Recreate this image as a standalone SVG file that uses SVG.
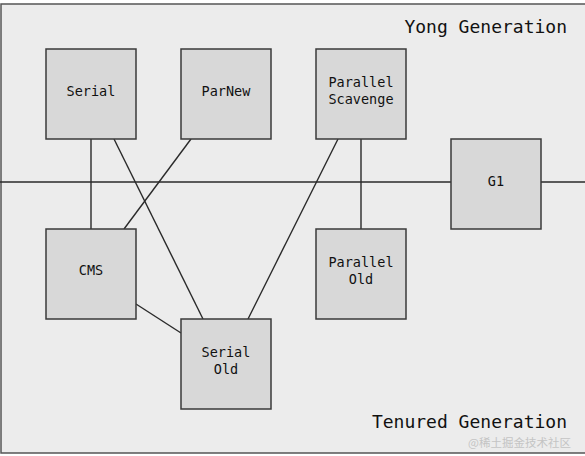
<svg xmlns="http://www.w3.org/2000/svg" width="585" height="456" viewBox="0 0 585 456">
<style>
.bg{fill:#ececec;stroke:#555;stroke-width:1.5}
.box{fill:#d8d8d8;stroke:#3a3a3a;stroke-width:1.5}
.lbl{font-family:"DejaVu Sans Mono","Liberation Mono",monospace;font-size:13.5px;fill:#111;text-anchor:middle}
.gen{font-family:"DejaVu Sans Mono","Liberation Mono",monospace;font-size:18px;fill:#111;text-anchor:end}
.ln{stroke:#2a2a2a;stroke-width:1.4;fill:none}
</style>
<rect width="585" height="456" fill="#ffffff"/>
<rect class="bg" x="1" y="4" width="590" height="449"/>
<text class="gen" x="567" y="33">Yong Generation</text>
<text class="gen" x="567" y="428">Tenured Generation</text>
<g id="connectors">
<line class="ln" x1="0" y1="182" x2="451" y2="182"/>
<line class="ln" x1="541" y1="182" x2="585" y2="182"/>
<line class="ln" x1="91" y1="139" x2="91" y2="229"/>
<line class="ln" x1="114" y1="139" x2="203" y2="319"/>
<line class="ln" x1="191" y1="139" x2="124" y2="229"/>
<line class="ln" x1="338" y1="139" x2="248" y2="319"/>
<line class="ln" x1="361" y1="139" x2="361" y2="229"/>
<line class="ln" x1="136" y1="304" x2="181" y2="333"/>
</g>
<g id="serial"><rect class="box" x="46" y="49" width="90" height="90"/><text class="lbl" x="91" y="96">Serial</text></g>
<g id="parnew"><rect class="box" x="181" y="49" width="90" height="90"/><text class="lbl" x="226" y="96">ParNew</text></g>
<g id="parallel-scavenge"><rect class="box" x="316" y="49" width="90" height="90"/><text class="lbl" x="361" y="87">Parallel</text><text class="lbl" x="361" y="104">Scavenge</text></g>
<g id="g1"><rect class="box" x="451" y="139" width="90" height="90"/><text class="lbl" x="496" y="186">G1</text></g>
<g id="cms"><rect class="box" x="46" y="229" width="90" height="90"/><text class="lbl" x="91" y="275">CMS</text></g>
<g id="parallel-old"><rect class="box" x="316" y="229" width="90" height="90"/><text class="lbl" x="361" y="267">Parallel</text><text class="lbl" x="361" y="284">Old</text></g>
<g id="serial-old"><rect class="box" x="181" y="319" width="90" height="90"/><text class="lbl" x="226" y="357">Serial</text><text class="lbl" x="226" y="374">Old</text></g>
<text x="571" y="447" font-family="'Noto Sans CJK SC',sans-serif" font-size="11.5" fill="#c4c4c4" text-anchor="end">@稀土掘金技术社区</text>
</svg>
